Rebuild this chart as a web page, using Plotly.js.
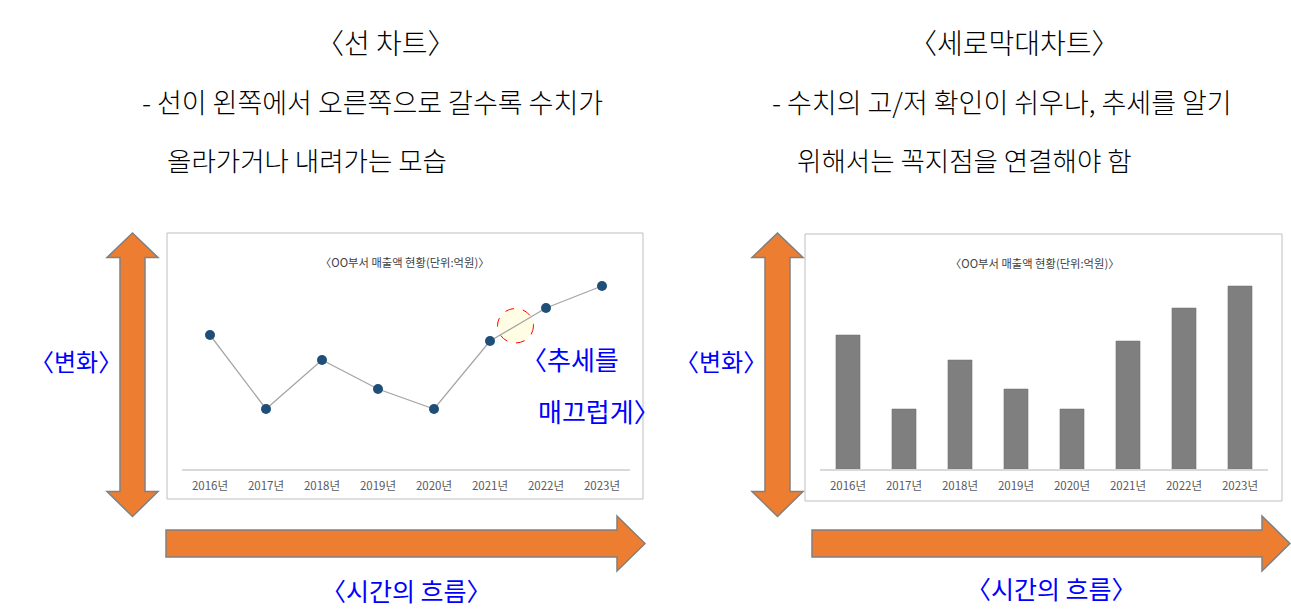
<!DOCTYPE html>
<html>
<head>
<meta charset="utf-8">
<script src="https://cdn.plot.ly/plotly-3.0.1.min.js"></script>
<style>html,body{margin:0;padding:0;background:#fff;}</style>
</head>
<body>
<div id="chart" style="width:1291px;height:614px;"></div>
<script>
// ---- data ----
const years = ['2016년','2017년','2018년','2019년','2020년','2021년','2022년','2023년'];
const sales = [67, 30, 54.5, 40, 30, 64, 80.5, 91.5];
const chartTitle = '〈OO부서 매출액 현황(단위:억원)〉';

// ---- helpers (pixel -> paper) ----
const W = 1291, H = 614;
const X = p => p / W;
const Y = p => 1 - p / H;
const path = pts => 'M ' + pts.map(p => X(p[0]).toFixed(5) + ' ' + Y(p[1]).toFixed(5)).join(' L ') + ' Z';
const FONT = 'Noto Sans CJK KR';

function vArrow(cx) {
  return path([[cx,233],[cx+25.5,257.5],[cx+12.5,257.5],[cx+12.5,491.5],[cx+25.5,491.5],[cx,516.5],
               [cx-25.5,491.5],[cx-12.5,491.5],[cx-12.5,257.5],[cx-25.5,257.5]]);
}
function hArrow(x0, xb, xt) {
  return path([[x0,530],[xb,530],[xb,516],[xt,543.5],[xb,571],[xb,557],[x0,557]]);
}
const arrowStyle = {type:'path', xref:'paper', yref:'paper', fillcolor:'#ED7D31', line:{color:'#808080', width:1.5}, layer:'above'};

const traces = [
  {type:'scatter', mode:'lines+markers', x: years, y: sales, xaxis:'x', yaxis:'y',
   line:{color:'#a6a6a6', width:1.3}, marker:{color:'#1f4e79', size:10}, hoverinfo:'skip'},
  {type:'bar', x: years, y: sales, xaxis:'x2', yaxis:'y2', width:0.43,
   marker:{color:'#7f7f7f', line:{color:'#6f6f6f', width:0.5}}, hoverinfo:'skip'}
];

const xCommon = {type:'category', range:[-0.5,7.5], showline:true, linecolor:'#d9d9d9', linewidth:2,
  showgrid:false, zeroline:false, ticks:'outside', ticklen:5, tickcolor:'rgba(0,0,0,0)',
  tickfont:{family:FONT, size:11.5, color:'#595959'}, fixedrange:true};
const yDomain = [Y(469), Y(269)];

const ann = [];
function addText(text, x, y, size, color, xanchor, weight) {
  ann.push({text:text, x:X(x), y:Y(y), xref:'paper', yref:'paper', showarrow:false,
    xanchor:xanchor||'center', yanchor:'middle', font:{family:FONT, size:size, color:color, weight:weight||400}});
}
addText('〈선 차트〉', 385, 42, 28, '#000000', 'center', 300);
addText('〈세로막대차트〉', 1014, 42, 28, '#000000', 'center', 300);
addText('- 선이 왼쪽에서 오른쪽으로 갈수록 수치가', 140, 102, 27, '#000000', 'left', 300);
addText('올라가거나 내려가는 모습', 165, 159, 26.5, '#000000', 'left', 300);
addText('- 수치의 고/저 확인이 쉬우나, 추세를 알기', 770, 102, 27, '#000000', 'left', 300);
addText('위해서는 꼭지점을 연결해야 함', 795, 159, 26.5, '#000000', 'left', 300);
addText(chartTitle, 405, 262, 11.3, '#404040');
addText(chartTitle, 1035, 263, 11.3, '#404040');
addText('〈추세를', 519, 358, 26, '#0000ff', 'left');
addText('매끄럽게〉', 536, 410, 26, '#0000ff', 'left');
addText('〈변화〉', 76, 360, 24, '#0000ff', 'center');
addText('〈변화〉', 721, 360, 24, '#0000ff', 'center');
addText('〈시간의 흐름〉', 406, 590, 25, '#0000ff', 'center');
addText('〈시간의 흐름〉', 1051, 588, 25, '#0000ff', 'center');

const shapes = [
  {type:'rect', xref:'paper', yref:'paper', x0:X(167), x1:X(643), y0:Y(499), y1:Y(233), line:{color:'#bfbfbf', width:1}, fillcolor:'rgba(0,0,0,0)', layer:'below'},
  {type:'rect', xref:'paper', yref:'paper', x0:X(805), x1:X(1282), y0:Y(501), y1:Y(234), line:{color:'#bfbfbf', width:1}, fillcolor:'rgba(0,0,0,0)', layer:'below'},
  {type:'circle', xref:'paper', yref:'paper', x0:X(497.5), x1:X(533.5), y0:Y(343), y1:Y(308.5), line:{color:'#ff0000', width:1, dash:'dash'}, fillcolor:'#fffde3', layer:'below'},
  Object.assign({path: vArrow(132.5)}, arrowStyle),
  Object.assign({path: vArrow(777.5)}, arrowStyle),
  Object.assign({path: hArrow(166, 617, 645)}, arrowStyle),
  Object.assign({path: hArrow(812, 1262, 1290)}, arrowStyle)
];

const layout = {
  width: W, height: H, margin:{l:0, r:0, t:0, b:0, pad:0},
  paper_bgcolor:'#ffffff', plot_bgcolor:'rgba(0,0,0,0)', showlegend:false,
  xaxis: Object.assign({domain:[X(182), X(630)], anchor:'y'}, xCommon),
  yaxis: {domain:yDomain, range:[0,100], visible:false, fixedrange:true, anchor:'x'},
  xaxis2: Object.assign({domain:[X(820), X(1268)], anchor:'y2'}, xCommon),
  yaxis2: {domain:yDomain, range:[0,100], visible:false, fixedrange:true, anchor:'x2'},
  annotations: ann, shapes: shapes
};

Plotly.newPlot('chart', traces, layout, {staticPlot:true, displayModeBar:false});
</script>
</body>
</html>
